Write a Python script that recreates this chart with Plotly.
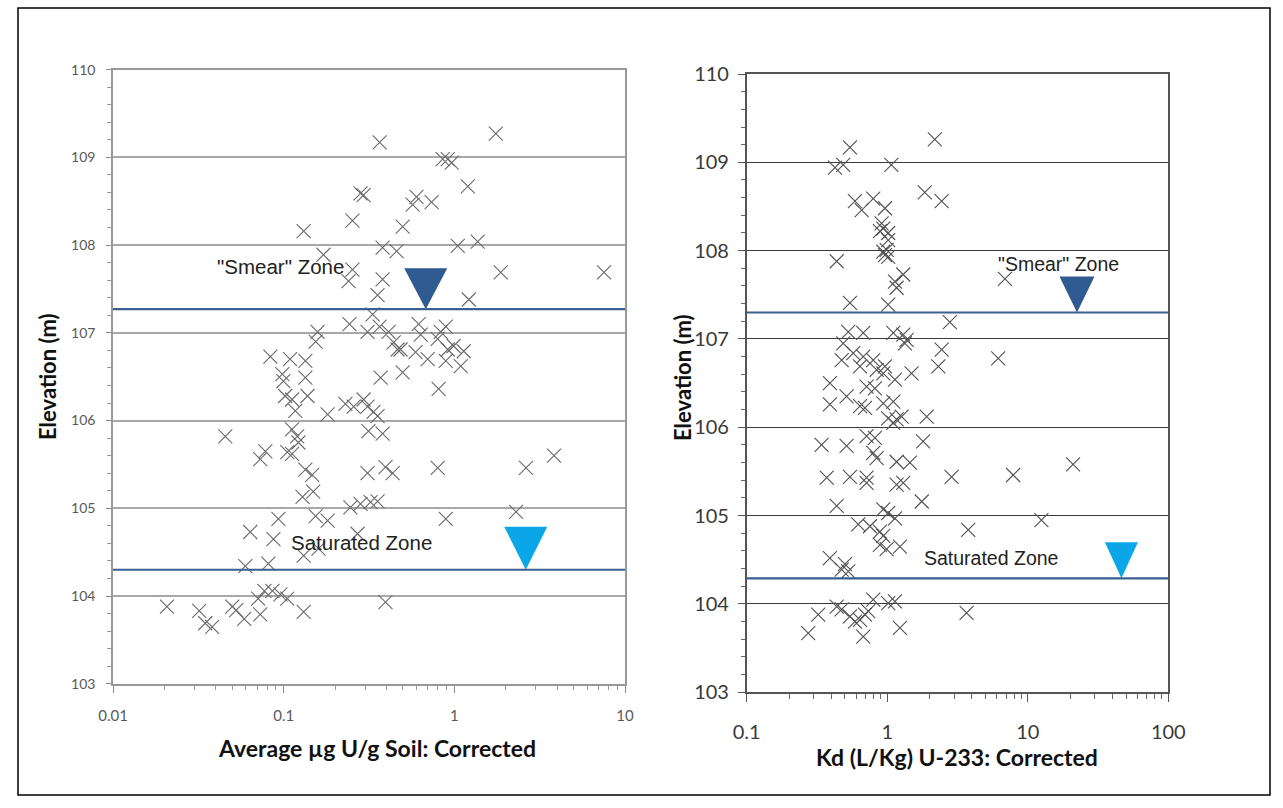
import plotly.graph_objects as go

W, H = 1283, 808

# ---------------- data ----------------
# Left panel: Average ug U/g soil (corrected) vs elevation (m)
soil_ug = [0.365, 1.75, 0.855, 0.915, 0.966, 0.282, 0.294, 1.20, 0.60, 0.57,
           0.736, 0.253, 0.131, 0.498, 0.171, 0.38, 0.459, 1.047, 1.371, 0.253,
           0.24, 0.38, 0.355, 1.87, 7.54, 1.216, 0.332, 0.243, 0.31, 0.158,
           0.154, 0.365, 0.412, 0.441, 0.465, 0.484, 0.618, 0.635, 0.891, 0.832,
           0.799, 0.593, 0.698, 0.915, 0.991, 1.135, 0.891, 1.091, 0.0836, 0.109,
           0.134, 0.0982, 0.0996, 0.134, 0.37, 0.498, 0.809, 0.102, 0.112, 0.138,
           0.117, 0.181, 0.23, 0.257, 0.294, 0.31, 0.336, 0.355, 0.0455, 0.112,
           0.12, 0.122, 0.314, 0.38, 0.0781, 0.0729, 0.105, 0.112, 0.134, 0.147,
           0.31, 0.395, 0.435, 0.799, 2.63, 3.84, 0.129, 0.149, 0.246, 0.282,
           0.323, 0.355, 0.0931, 0.154, 0.181, 0.891, 2.30, 0.0637, 0.0871, 0.271,
           0.131, 0.16, 0.0596, 0.0813, 0.0207, 0.032, 0.0347, 0.0381, 0.05, 0.0527,
           0.0587, 0.0709, 0.0771, 0.0859, 0.0957, 0.105, 0.0729, 0.131, 0.395]
soil_elev = [109.17, 109.27, 108.98, 108.98, 108.94, 108.59, 108.57, 108.67, 108.55, 108.46,
             108.49, 108.28, 108.16, 108.21, 107.89, 107.97, 107.93, 107.99, 108.04, 107.72,
             107.59, 107.61, 107.43, 107.69, 107.69, 107.38, 107.21, 107.10, 107.01, 107.01,
             106.90, 107.07, 107.01, 106.89, 106.81, 106.81, 107.10, 106.98, 107.07, 107.01,
             106.93, 106.78, 106.70, 106.81, 106.85, 106.79, 106.68, 106.62, 106.73, 106.70,
             106.68, 106.53, 106.45, 106.49, 106.49, 106.55, 106.36, 106.28, 106.24, 106.28,
             106.11, 106.07, 106.19, 106.16, 106.24, 106.16, 106.10, 106.05, 105.82, 105.90,
             105.82, 105.75, 105.88, 105.85, 105.65, 105.56, 105.64, 105.62, 105.44, 105.38,
             105.40, 105.47, 105.40, 105.46, 105.46, 105.60, 105.13, 105.19, 105.01, 105.05,
             105.07, 105.08, 104.88, 104.91, 104.86, 104.88, 104.96, 104.73, 104.65, 104.71,
             104.46, 104.54, 104.34, 104.37, 103.88, 103.83, 103.69, 103.65, 103.88, 103.84,
             103.74, 103.97, 104.06, 104.06, 104.02, 103.97, 103.79, 103.82, 103.93]

# Right panel: Kd (L/Kg) U-233 (corrected) vs elevation (m)
kd = [0.543, 2.18, 0.425, 0.486, 1.07, 0.589, 0.658, 0.795, 0.963, 1.85,
      2.44, 0.912, 0.937, 0.887, 1.016, 1.016, 0.99, 0.963, 1.016, 0.937,
      0.437, 1.30, 1.135, 1.166, 6.88, 0.543, 1.016, 2.79, 0.528, 0.675,
      0.486, 1.104, 1.30, 1.374, 1.336, 2.44, 2.31, 6.16, 0.474, 0.573,
      0.675, 0.64, 0.795, 0.841, 0.963, 0.937, 1.49, 1.135, 0.391, 0.713,
      0.817, 0.514, 0.391, 0.64, 0.694, 0.937, 1.104, 1.016, 1.166, 1.266,
      1.104, 1.91, 0.341, 0.514, 0.713, 0.817, 1.80, 0.795, 0.841, 1.166,
      1.449, 0.371, 0.543, 0.713, 0.713, 1.166, 1.30, 2.87, 7.87, 21.0,
      0.437, 0.937, 1.016, 1.135, 1.76, 12.5, 0.622, 0.753, 0.887, 0.937,
      0.887, 0.99, 1.231, 3.77, 0.391, 0.50, 0.528, 0.474, 0.795, 1.016,
      1.135, 0.437, 0.474, 0.323, 0.543, 0.589, 0.64, 0.694, 0.733, 0.274,
      0.675, 1.231, 3.67]
kd_elev = [109.17, 109.26, 108.94, 108.97, 108.97, 108.56, 108.46, 108.59, 108.48, 108.66,
           108.56, 108.31, 108.25, 108.22, 108.20, 108.12, 108.01, 107.95, 107.93, 107.99,
           107.88, 107.73, 107.65, 107.58, 107.68, 107.41, 107.39, 107.19, 107.08, 107.07,
           106.95, 107.07, 107.05, 106.99, 106.95, 106.88, 106.69, 106.78, 106.76, 106.84,
           106.80, 106.69, 106.76, 106.65, 106.69, 106.61, 106.61, 106.54, 106.50, 106.46,
           106.44, 106.35, 106.26, 106.24, 106.22, 106.27, 106.29, 106.10, 106.09, 106.12,
           106.05, 106.12, 105.80, 105.79, 105.90, 105.88, 105.84, 105.71, 105.65, 105.61,
           105.60, 105.43, 105.44, 105.43, 105.37, 105.35, 105.37, 105.44, 105.46, 105.58,
           105.11, 105.07, 105.03, 104.97, 105.16, 104.95, 104.90, 104.88, 104.82, 104.77,
           104.67, 104.62, 104.65, 104.84, 104.52, 104.45, 104.37, 104.39, 104.05, 104.01,
           104.03, 103.97, 103.94, 103.88, 103.86, 103.80, 103.82, 103.88, 103.92, 103.67,
           103.63, 103.73, 103.90]

# zone water levels (m) and marker positions
smear_elev = [107.27, 107.30]      # left, right
sat_elev = [104.30, 104.29]
smear_tri_x = [0.68, 22.4]
sat_tri_x = [2.62, 46.4]

left_xticks = [0.01, 0.1, 1, 10]
left_xticktext = ["0.01", "0.1", "1", "10"]
right_xticks = [0.1, 1, 10, 100]
right_xticktext = ["0.1", "1", "10", "100"]
yticks = [103, 104, 105, 106, 107, 108, 109, 110]

# ---------------- layout geometry (pixels) ----------------
L_px = (113, 625, 69.6, 683.8)     # x0, x1, ytop, ybottom
R_px = (746.7, 1168.3, 74.0, 692.3)
L_xr, R_xr = (-2, 1), (-1, 2)

def dom(p):
    return [p[0] / W, p[1] / W], [1 - p[3] / H, 1 - p[2] / H]

Lxd, Lyd = dom(L_px)
Rxd, Ryd = dom(R_px)

DARK_BLUE = "#2f5a92"
LIGHT_BLUE = "#0aa6e8"
LINE_BLUE = "#3b5f8e"

fig = go.Figure()

fig.add_trace(go.Scatter(x=soil_ug, y=soil_elev, mode="markers", xaxis="x", yaxis="y",
                         marker=dict(symbol="x-thin-open", size=14, color="#6a6a6a",
                                     line=dict(width=1.1, color="#6a6a6a")),
                         hoverinfo="x+y", showlegend=False))
fig.add_trace(go.Scatter(x=kd, y=kd_elev, mode="markers", xaxis="x2", yaxis="y2",
                         marker=dict(symbol="x-thin-open", size=14, color="#505050",
                                     line=dict(width=1.1, color="#505050")),
                         hoverinfo="x+y", showlegend=False))

# inverted triangles: tip sits on the water level line
def triangle(xc, tip, px_halfw, px_h, p, xr, color, xa, ya):
    dec_per_px = (xr[1] - xr[0]) / (p[1] - p[0])
    m_per_px = 7.0 / (p[3] - p[2])
    f = 10 ** (px_halfw * dec_per_px)
    top = tip + px_h * m_per_px
    fig.add_trace(go.Scatter(x=[xc / f, xc * f, xc, xc / f], y=[top, top, tip, top],
                             mode="lines", fill="toself", fillcolor=color,
                             line=dict(width=0, color=color), xaxis=xa, yaxis=ya,
                             hoverinfo="skip", showlegend=False))

triangle(smear_tri_x[0], smear_elev[0], 21.5, 41, L_px, L_xr, DARK_BLUE, "x", "y")
triangle(sat_tri_x[0], sat_elev[0], 21.5, 43, L_px, L_xr, LIGHT_BLUE, "x", "y")
triangle(smear_tri_x[1], smear_elev[1], 17.5, 36, R_px, R_xr, DARK_BLUE, "x2", "y2")
triangle(sat_tri_x[1], sat_elev[1], 16.5, 36, R_px, R_xr, LIGHT_BLUE, "x2", "y2")

shapes = [
    dict(type="rect", xref="paper", yref="paper", x0=18 / W, x1=1270 / W,
         y0=1 - 795 / H, y1=1 - 8 / H, line=dict(color="#000", width=1.5)),
]
for e, xr_, yr_ in [(smear_elev[0], "x domain", "y"), (sat_elev[0], "x domain", "y"),
                    (smear_elev[1], "x2 domain", "y2"), (sat_elev[1], "x2 domain", "y2")]:
    shapes.append(dict(type="line", xref=xr_, yref=yr_, x0=0, x1=1, y0=e, y1=e,
                       line=dict(color=LINE_BLUE, width=2.2), layer="above"))

tick_font_L = dict(family="Lato, Liberation Sans, sans-serif", size=15, color="#595959")
tick_font_R = dict(family="Lato, Liberation Sans, sans-serif", size=20, color="#3a3a3a")

fig.update_layout(
    template="none",
    width=W, height=H, margin=dict(l=0, r=0, t=0, b=0, pad=0), autosize=False,
    paper_bgcolor="white", plot_bgcolor="white", showlegend=False,
    shapes=shapes,
    xaxis=dict(domain=Lxd, type="log", range=list(L_xr), anchor="y", automargin=False,
               tickmode="array", tickvals=left_xticks, ticktext=left_xticktext,
               ticks="outside", ticklen=7, tickcolor="#888", ticklabelstandoff=10,
               minor=dict(ticks="outside", ticklen=4, dtick="D1", tickcolor="#999", showgrid=False),
               showgrid=False, zeroline=False, showline=True, mirror=True,
               linecolor="#999", linewidth=1.5, tickfont=tick_font_L),
    yaxis=dict(domain=Lyd, range=[103, 110], anchor="x", automargin=False,
               tickmode="array", tickvals=yticks,
               ticks="outside", ticklen=5, tickcolor="#888", ticklabelstandoff=8,
               minor=dict(ticks="outside", ticklen=4, dtick=0.2, tick0=103, tickcolor="#999", showgrid=False),
               showgrid=True, gridcolor="#a8a8a8", gridwidth=1.5, zeroline=False,
               showline=True, mirror=True, linecolor="#999", linewidth=1.5,
               tickfont=dict(family="Lato, Liberation Sans, sans-serif", size=14, color="#595959")),
    xaxis2=dict(domain=Rxd, type="log", range=list(R_xr), anchor="y2", automargin=False,
                tickmode="array", tickvals=right_xticks, ticktext=right_xticktext,
                ticks="outside", ticklen=8, tickcolor="#555", ticklabelstandoff=13,
                minor=dict(ticks="outside", ticklen=5, dtick="D1", tickcolor="#666", showgrid=False),
                showgrid=False, zeroline=False, showline=True, mirror=True,
                linecolor="#555", linewidth=1.5, tickfont=tick_font_R),
    yaxis2=dict(domain=Ryd, range=[103, 110], anchor="x2", automargin=False,
                tickmode="array", tickvals=yticks,
                ticks="outside", ticklen=7, tickcolor="#555", ticklabelstandoff=5,
                minor=dict(ticks="outside", ticklen=4, dtick=0.2, tick0=103, tickcolor="#666", showgrid=False),
                showgrid=True, gridcolor="#3a3a3a", gridwidth=1.2, zeroline=False,
                showline=True, mirror=True, linecolor="#555", linewidth=1.5,
                tickfont=tick_font_R),
)

title_font = dict(family="Lato, Liberation Sans, sans-serif", size=23, color="#111")
zone_font_L = dict(family="Liberation Sans, Arial, sans-serif", size=20.5, color="#222")
zone_font_R = dict(family="Liberation Sans, Arial, sans-serif", size=19.5, color="#222")

def ann(text, px, py, font, angle=0):
    return dict(text=text, x=px / W, y=1 - py / H, xref="paper", yref="paper",
                showarrow=False, xanchor="center", yanchor="middle", font=font, textangle=angle)

fig.update_layout(annotations=[
    ann("<b>Average \u00b5g U/g Soil: Corrected</b>", 377, 748, title_font),
    ann("<b>Kd (L/Kg) U-233: Corrected</b>", 957, 757, title_font),
    ann("<b>Elevation (m)</b>", 47, 377, dict(title_font, size=22), -90),
    ann("<b>Elevation (m)</b>", 682, 378, dict(title_font, size=22), -90),
    ann('"Smear" Zone', 280, 267, zone_font_L),
    ann("Saturated Zone", 361, 542, zone_font_L),
    ann('"Smear" Zone', 1058, 264, zone_font_R),
    ann("Saturated Zone", 991, 558, zone_font_R),
])

fig.write_html("out.html")
